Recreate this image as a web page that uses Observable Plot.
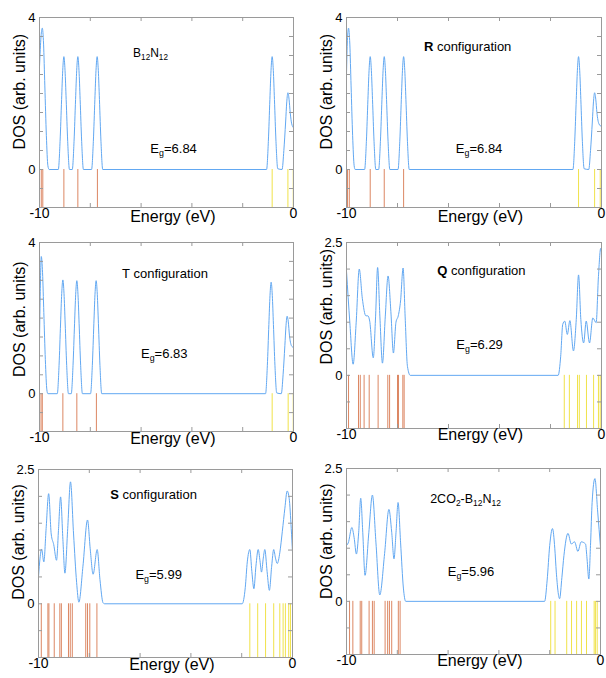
<!DOCTYPE html>
<html><head><meta charset="utf-8">
<script src="https://cdn.jsdelivr.net/npm/d3@7"></script>
<script src="https://cdn.jsdelivr.net/npm/@observablehq/plot@0.6"></script>
<style>
body{margin:0;background:#fff;}
#wrap{position:relative;width:606px;height:678px;font-family:"Liberation Sans",Arial,sans-serif;}
#wrap svg{position:absolute;overflow:visible;background:none;}
</style></head><body><div id="wrap"></div>
<script>
// ---------------- data ----------------
const energyTickLabels = [-10, 0];
const energyMinorTicks = [-8, -6, -4, -2];
const panelNames = ["B_{12}N_{12}", "**R** configuration", "T configuration", "**Q** configuration", "**S** configuration", "2CO_{2}-B_{12}N_{12}"];
const gapLabels = ["E_{g}=6.84", "E_{g}=6.84", "E_{g}=6.83", "E_{g}=6.29", "E_{g}=5.99", "E_{g}=5.96"];
const dosMax = [4, 4, 4, 2.5, 2.5, 2.5];
const dosStep = 0.5;

// DOS curves [energy (eV), DOS]
const dosB12N12 = [[-10,2.7],[-9.94,3.5],[-9.89,3.72],[-9.84,3.3],[-9.79,2.2],[-9.73,0.9],[-9.67,0.1],[-9.62,0],
 [-9.26,0],[-9.19,0.74],[-9.13,1.84],[-9.085,2.61],[-9.04,2.97],[-8.995,2.61],[-8.95,1.84],[-8.89,0.74],[-8.82,0],
 [-8.71,0],[-8.64,0.74],[-8.58,1.84],[-8.535,2.61],[-8.49,2.97],[-8.445,2.61],[-8.40,1.84],[-8.34,0.74],[-8.27,0],
 [-7.95,0],[-7.88,0.74],[-7.82,1.84],[-7.775,2.61],[-7.73,2.97],[-7.685,2.61],[-7.64,1.84],[-7.58,0.74],[-7.51,0],
 [-1.06,0],[-0.99,0.74],[-0.93,1.84],[-0.885,2.61],[-0.84,2.97],[-0.795,2.61],[-0.75,1.84],[-0.69,0.74],[-0.62,0.02],
 [-0.45,0],[-0.38,0.5],[-0.31,1.25],[-0.265,1.78],[-0.22,2.02],[-0.175,1.85],[-0.13,1.5],[-0.07,1.2],[0,1.1]];
const dosR = [[-10,2.5],[-9.965,3.4],[-9.92,3.72],[-9.87,3.3],[-9.82,2.2],[-9.76,0.9],[-9.70,0.1],[-9.66,0],
 [-9.29,0],[-9.22,0.74],[-9.16,1.84],[-9.115,2.61],[-9.07,2.97],[-9.025,2.61],[-8.98,1.84],[-8.92,0.74],[-8.85,0],
 [-8.74,0],[-8.67,0.74],[-8.61,1.84],[-8.565,2.61],[-8.52,2.97],[-8.475,2.61],[-8.43,1.84],[-8.37,0.74],[-8.30,0],
 [-7.98,0],[-7.91,0.74],[-7.85,1.84],[-7.805,2.61],[-7.76,2.97],[-7.715,2.61],[-7.67,1.84],[-7.61,0.74],[-7.54,0],
 [-1.12,0],[-1.05,0.74],[-0.99,1.84],[-0.945,2.61],[-0.90,2.97],[-0.855,2.61],[-0.81,1.84],[-0.75,0.74],[-0.68,0.02],
 [-0.50,0],[-0.43,0.5],[-0.36,1.25],[-0.315,1.78],[-0.27,2.02],[-0.225,1.85],[-0.18,1.5],[-0.10,1.2],[0,1.13]];
const dosT = [[-10,1.4],[-9.97,2.7],[-9.93,3.63],[-9.88,3.2],[-9.83,2.15],[-9.77,0.9],[-9.71,0.1],[-9.67,0],
 [-9.30,0],[-9.23,0.75],[-9.17,1.87],[-9.125,2.65],[-9.08,3.01],[-9.035,2.65],[-8.99,1.87],[-8.93,0.75],[-8.86,0],
 [-8.75,0],[-8.68,0.75],[-8.62,1.85],[-8.575,2.63],[-8.53,2.99],[-8.485,2.63],[-8.44,1.85],[-8.38,0.75],[-8.31,0],
 [-7.99,0],[-7.92,0.75],[-7.86,1.85],[-7.815,2.63],[-7.77,2.99],[-7.725,2.63],[-7.68,1.85],[-7.62,0.75],[-7.55,0],
 [-1.10,0],[-1.03,0.74],[-0.97,1.83],[-0.925,2.6],[-0.88,2.95],[-0.835,2.6],[-0.79,1.83],[-0.73,0.74],[-0.66,0.02],
 [-0.48,0],[-0.41,0.5],[-0.34,1.27],[-0.295,1.8],[-0.25,2.05],[-0.205,1.9],[-0.16,1.55],[-0.08,1.27],[0,1.22]];
const dosQ = [[-10,1.96],[-9.87,1.0],[-9.74,0.21],[-9.62,1.0],[-9.50,2.0],[-9.38,1.45],[-9.24,1.12],[-9.16,1.12],[-9.09,1.02],[-8.95,0.33],
 [-8.86,1.1],[-8.78,2.03],[-8.69,1.1],[-8.59,0.23],[-8.48,1.1],[-8.37,1.87],[-8.26,1.2],[-8.16,0.42],[-8.06,1.0],[-7.97,1.12],
 [-7.88,1.4],[-7.78,2.02],[-7.70,1.1],[-7.61,0.17],[-7.50,0],
 [-1.70,0],[-1.60,0.36],[-1.52,0.96],[-1.44,1.02],[-1.34,0.77],[-1.24,1.03],[-1.10,0.46],[-0.99,1.05],[-0.90,1.89],[-0.81,1.05],
 [-0.70,0.61],[-0.60,1.02],[-0.47,0.61],[-0.34,1.08],[-0.21,0.99],[-0.12,1.86],[-0.03,2.39],[0,2.33]];
const dosS = [[-10,0.5],[-9.94,0.85],[-9.88,1.02],[-9.79,0.78],[-9.70,1.4],[-9.60,2.05],[-9.50,1.3],[-9.40,1.1],[-9.29,0.81],[-9.21,1.4],
 [-9.13,1.99],[-9.04,1.2],[-8.96,0.57],[-8.85,1.4],[-8.74,2.27],[-8.62,1.3],[-8.50,0.4],[-8.41,0.03],[-8.25,0.7],[-8.07,1.56],
 [-7.96,1.0],[-7.85,0.55],[-7.69,1.01],[-7.58,0.45],[-7.46,0.02],[-7.40,0],
 [-1.98,0],[-1.86,0.3],[-1.78,0.78],[-1.68,1.01],[-1.60,0.6],[-1.52,0.28],[-1.44,0.7],[-1.35,1.01],[-1.28,0.8],[-1.22,0.59],
 [-1.15,0.85],[-1.09,1.01],[-1.0,0.6],[-0.91,0.25],[-0.82,0.7],[-0.74,1.01],[-0.67,0.85],[-0.60,0.75],[-0.50,0.95],[-0.40,1.35],
 [-0.30,1.78],[-0.21,2.10],[-0.13,1.96],[-0.05,1.40],[0,0.96]];
const dos2CO2 = [[-10,1.05],[-9.93,1.1],[-9.79,1.39],[-9.70,1.2],[-9.61,0.89],[-9.52,1.3],[-9.44,1.94],[-9.36,1.3],[-9.27,0.49],[-9.12,1.3],
 [-8.98,2.0],[-8.84,1.1],[-8.69,0.12],[-8.50,0.9],[-8.33,1.73],[-8.22,1.3],[-8.13,0.80],[-8.05,1.3],[-7.97,1.86],[-7.87,1.1],
 [-7.76,0.25],[-7.67,0],
 [-2.20,0],[-2.10,0.4],[-2.0,1.05],[-1.89,1.37],[-1.80,1.0],[-1.74,0.55],[-1.61,0.05],[-1.52,0.45],[-1.44,0.86],[-1.28,1.28],
 [-1.15,1.08],[-1.02,1.12],[-0.89,0.94],[-0.76,1.12],[-0.59,1.08],[-0.53,0.8],[-0.46,0.42],[-0.39,1.1],[-0.33,1.86],[-0.22,2.31],
 [-0.11,1.68],[0,1.02]];

// energy levels (eV): occupied and unoccupied
const occB12N12 = [-9.93,-9.87,-9.04,-8.49,-7.72];
const virB12N12 = [-0.84,-0.22,-0.01];
const occR = [-9.96,-9.89,-9.07,-8.52,-7.76];
const virR = [-0.90,-0.27,-0.05];
const occT = [-9.94,-9.89,-9.08,-8.53,-7.76];
const virT = [-0.84,-0.21,-0.01];
const occQ = [-9.92,-9.53,-9.46,-9.31,-9.11,-8.76,-8.38,-8.31,-8.0,-7.96,-7.79,-7.74];
const virQ = [-1.46,-1.26,-0.94,-0.87,-0.59,-0.31,-0.12,-0.05];
const occS = [-9.89,-9.63,-9.59,-9.38,-9.16,-9.10,-8.82,-8.75,-8.67,-8.14,-8.07,-7.98,-7.70];
const virS = [-1.68,-1.37,-1.06,-0.74,-0.50,-0.37,-0.28,-0.15,-0.08];
const occ2CO2 = [-9.88,-9.75,-9.46,-9.40,-9.11,-8.98,-8.91,-8.48,-8.38,-8.31,-8.22,-7.96,-7.89];
const vir2CO2 = [-1.96,-1.79,-1.33,-1.14,-0.94,-0.75,-0.55,-0.25,-0.20,-0.13];

const dosSeries = [dosB12N12, dosR, dosT, dosQ, dosS, dos2CO2];
const occSeries = [occB12N12, occR, occT, occQ, occS, occ2CO2];
const virSeries = [virB12N12, virR, virT, virQ, virS, vir2CO2];

// ---------------- layout ----------------
const layout = [
 {left:0,   top:0,   ml:39, mr:10, mt:17, mb:19, dosY:2.05, exDy:14.4, name:[-5.63,3.05], gap:[-4.72,0.55], nameSize:12},
 {left:303, top:0,   ml:43, mr:5,  mt:17, mb:19, dosY:2.05, exDy:14.4, name:[-5.25,3.24], gap:[-4.80,0.55], nameSize:13},
 {left:0,   top:226, ml:39, mr:10, mt:16, mb:21, dosY:1.97, exDy:12.4, name:[-5.06,3.16], gap:[-5.09,1.06], nameSize:13},
 {left:303, top:226, ml:43, mr:5,  mt:16, mb:24, dosY:1.29, exDy:11.5, name:[-4.71,1.97], gap:[-4.78,0.57], nameSize:13},
 {left:0,   top:452, ml:38, mr:11, mt:17, mb:21, dosY:1.15, exDy:12.4, name:[-5.47,2.02], gap:[-5.27,0.54], nameSize:13},
 {left:303, top:452, ml:43, mr:6,  mt:16, mb:24, dosY:1.13, exDy:11.5, name:[-5.31,1.92], gap:[-5.10,0.56], nameSize:12.5}
];
const W = 303, H = 226;
const FONT = '"Liberation Sans", Arial, sans-serif';
const frameColor = "#9a9a9a";
const curveColor = "#62a8f2";
const occColor = "#dc8763";
const virColor = "#f0e24a";

function richify(svg, raw, size) {
  d3.select(svg).selectAll("text").each(function() {
    if (this.textContent !== raw) return;
    const t = d3.select(this);
    t.text(null);
    const re = /(_\{[^}]*\}|\*\*[^*]*\*\*)/g;
    const parts = raw.split(re).filter(s => s.length);
    let sub = false;
    for (const p of parts) {
      if (p.startsWith("_{")) {
        t.append("tspan").attr("dy", sub ? 0 : 3).attr("font-size", size * 0.68).text(p.slice(2, -1));
        sub = true;
      } else {
        const ts = t.append("tspan").attr("dy", sub ? -3 : 0);
        sub = false;
        if (p.startsWith("**")) ts.attr("font-weight", "bold").text(p.slice(2, -2));
        else ts.text(p);
      }
    }
  });
}

const wrap = document.getElementById("wrap");
layout.forEach((L, i) => {
  const fw = W - L.ml - L.mr, fh = H - L.mt - L.mb;
  const yTicks = d3.range(-1 + dosStep, dosMax[i] - 1e-9, dosStep);
  const svg = Plot.plot({
    width: W, height: H,
    marginLeft: L.ml, marginRight: L.mr, marginTop: L.mt, marginBottom: L.mb,
    style: {background: "none", overflow: "visible", fontFamily: FONT, color: "#000"},
    x: {domain: [-10, 0], axis: null},
    y: {domain: [-1, dosMax[i]], axis: null},
    marks: [
      Plot.ruleX(occSeries[i], {x: d => d, y1: -1, y2: 0, stroke: occColor, strokeWidth: 1}),
      Plot.ruleX(virSeries[i], {x: d => d, y1: -1, y2: 0, stroke: virColor, strokeWidth: 1}),
      Plot.line(dosSeries[i], {x: d => d[0], y: d => d[1], stroke: curveColor, strokeWidth: 1, curve: "monotone-x"}),
      Plot.frame({stroke: frameColor}),
      Plot.tickX(energyMinorTicks, {x: d => d, insetTop: fh - 4, stroke: frameColor}),
      Plot.tickX(energyMinorTicks, {x: d => d, insetBottom: fh - 4, stroke: frameColor}),
      Plot.tickY(yTicks, {y: d => d, insetLeft: fw - 4, stroke: frameColor}),
      Plot.tickY(yTicks, {y: d => d, insetRight: fw - 4, stroke: frameColor}),
      Plot.text(energyTickLabels, {x: d => d, frameAnchor: "bottom", dy: 10.5, text: d => String(d), fontSize: 14, fill: "#000"}),
      Plot.text([0, dosMax[i]], {y: d => d, frameAnchor: "left", dx: -4, textAnchor: "end", text: d => String(d), fontSize: 13, fill: "#000"}),
      Plot.text(["Energy (eV)"], {x: -4.75, frameAnchor: "bottom", dy: L.exDy, text: d => d, fontSize: 16, fill: "#000"}),
      Plot.text(["DOS (arb. units)"], {y: L.dosY, frameAnchor: "left", textAnchor: "middle", dx: -20, rotate: -90, text: d => d, fontSize: 16, fill: "#000"}),
      Plot.text([panelNames[i]], {x: L.name[0], y: L.name[1], text: d => d, fontSize: L.nameSize, fill: "#000"}),
      Plot.text([gapLabels[i]], {x: L.gap[0], y: L.gap[1], text: d => d, fontSize: 13, fill: "#000"})
    ]
  });
  svg.style.left = L.left + "px";
  svg.style.top = L.top + "px";
  richify(svg, panelNames[i], L.nameSize);
  richify(svg, gapLabels[i], 13);
  wrap.appendChild(svg);
});
</script></body></html>
